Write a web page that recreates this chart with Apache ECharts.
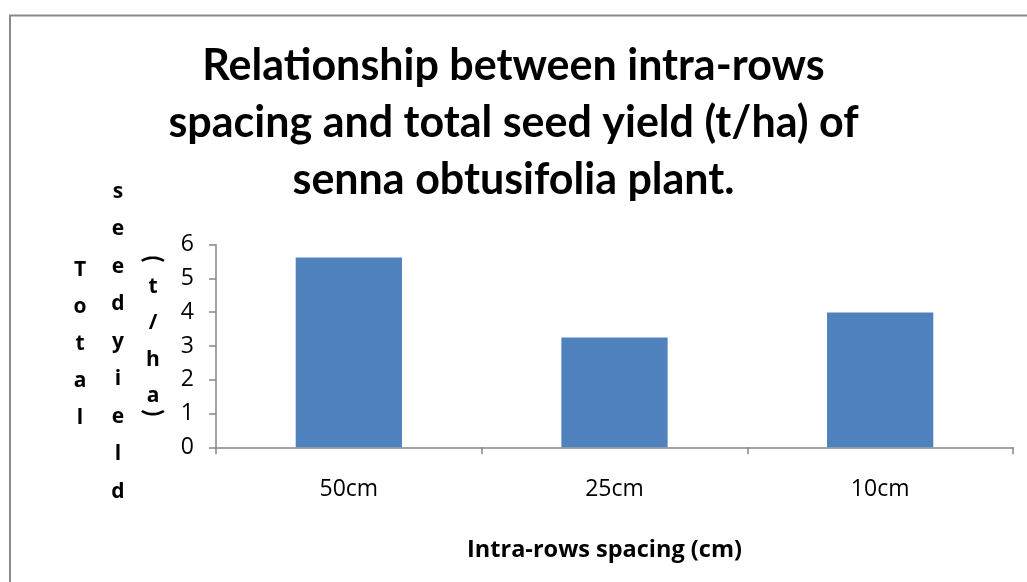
<!DOCTYPE html>
<html>
<head>
<meta charset="utf-8">
<script src="https://cdn.jsdelivr.net/npm/echarts@6/dist/echarts.min.js"></script>
<style>
html,body{margin:0;padding:0;background:#fff;}
#c{width:1027px;height:582px;}
</style>
</head>
<body>
<div id="c"></div>
<script>
const titleText = "Relationship between intra-rows\nspacing and total seed yield (t/ha) of\nsenna obtusifolia plant.";
const categories = ["50cm", "25cm", "10cm"];
const yieldValues = [5.62, 3.25, 3.99];
const yTicks = { min: 0, max: 6, interval: 1 };
const xAxisName = "Intra-rows spacing (cm)";
const yNameColumns = ["Total", "seed yield", "(t/ha)"];

const chart = echarts.init(document.getElementById('c'), null, { renderer: 'canvas' });

const axisGray = '#868686';
const letterFont = 'bold 21px "Open Sans"';

const colX = [80, 118, 153];
const colStart = [270, 192, 0];
const colStep = [37, 37.5, 0];
const col3Y = [259, 287, 323, 360, 396, 413];
const graphics = [];
yNameColumns.forEach((word, ci) => {
  const chars = word.replace(/\s+/g, '').split('');
  chars.forEach((ch, i) => {
    const isParen = ch === '(' || ch === ')';
    const y = ci === 2 ? col3Y[i] : colStart[ci] + colStep[ci] * i;
    graphics.push({
      type: 'text',
      x: colX[ci],
      y: y,
      rotation: isParen ? -Math.PI / 2 : 0,
      style: {
        text: ch,
        font: isParen ? 'bold 25px Lato' : letterFont,
        fill: '#000',
        align: 'center',
        verticalAlign: 'middle'
      },
      z: 10
    });
  });
});
graphics.push({
  type: 'rect',
  shape: { x: 10, y: 15.5, width: 1200, height: 800 },
  style: { fill: 'none', stroke: '#8a8a8a', lineWidth: 2 },
  silent: true,
  z: 0
});

const option = {
  backgroundColor: '#fff',
  animation: false,
  title: {
    text: titleText,
    left: 'center',
    top: 33,
    textStyle: {
      fontFamily: 'Lato',
      fontWeight: 'bold',
      fontSize: 43,
      lineHeight: 57,
      color: '#000'
    }
  },
  grid: { left: 216, right: 14, top: 244.7, bottom: 134.7, containLabel: false },
  xAxis: {
    type: 'category',
    data: categories,
    name: xAxisName,
    nameLocation: 'middle',
    nameGap: 91,
    nameTextStyle: { fontFamily: 'Open Sans', fontWeight: 'bold', fontSize: 23.5, color: '#000', padding: [0, 20, 0, 0] },
    axisLine: { lineStyle: { color: axisGray, width: 1.5 } },
    axisTick: { show: true, length: 7, alignWithLabel: false, lineStyle: { color: axisGray, width: 1.5 } },
    axisLabel: { margin: 31, fontFamily: 'Open Sans', fontSize: 23, color: '#000' },
    splitLine: { show: false }
  },
  yAxis: {
    type: 'value',
    min: yTicks.min,
    max: yTicks.max,
    interval: yTicks.interval,
    axisLine: { show: true, lineStyle: { color: axisGray, width: 1.5 } },
    axisTick: { show: true, length: 7, lineStyle: { color: axisGray, width: 1.5 } },
    axisLabel: { margin: 22, fontFamily: 'Open Sans', fontSize: 23, color: '#000' },
    splitLine: { show: false }
  },
  series: [{
    type: 'bar',
    data: yieldValues,
    barCategoryGap: '60%',
    itemStyle: { color: '#4F81BD' }
  }],
  graphic: graphics
};
chart.setOption(option);
</script>
</body>
</html>
